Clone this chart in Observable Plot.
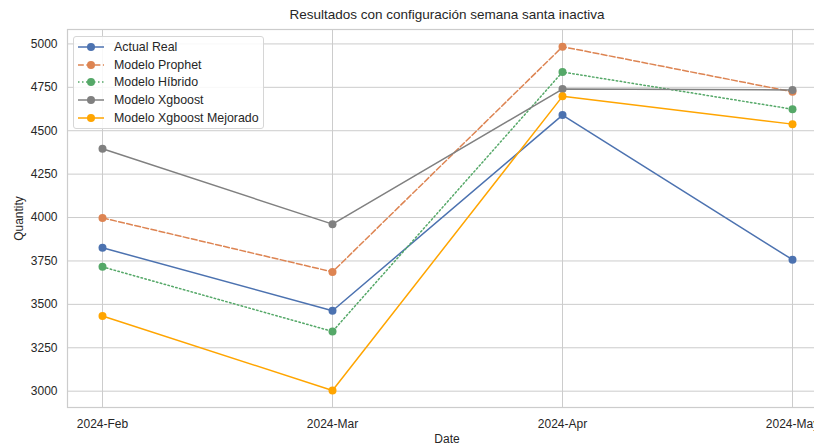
<!DOCTYPE html>
<html>
<head>
<meta charset="utf-8">
<script src="https://cdn.jsdelivr.net/npm/d3@7"></script>
<script src="https://cdn.jsdelivr.net/npm/@observablehq/plot@0.6"></script>
<style>
  html, body { margin: 0; padding: 0; background: #fff; overflow: hidden; }
  #wrap { position: relative; width: 814px; height: 445px; overflow: hidden; }
  #wrap > svg { max-width: none !important; width: 830px !important; height: 445px !important; }
  #legend {
    position: absolute; left: 73px; top: 36px; width: 191px; height: 93px;
    border: 1px solid #d6d6d6; border-radius: 3px; background: rgba(255,255,255,0.85);
    font-family: "Liberation Sans", Arial, sans-serif; font-size: 12.4px; color: #262626;
    box-sizing: border-box; padding-top: 1px;
  }
  #legend .row { display: flex; align-items: center; height: 17.7px; }
  #legend svg { margin-left: 4px; margin-right: 10px; }
</style>
</head>
<body>
<div id="wrap"></div>
<script>
const dates = ["2024-Feb", "2024-Mar", "2024-Apr", "2024-May"];
const actualReal = [3826, 3463, 4590, 3757];
const prophet = [3998, 3687, 4984, 4724];
const hibrido = [3716, 3344, 4838, 4624];
const xgboost = [4396, 3962, 4740, 4735];
const mejorado = [3433, 3004, 4698, 4538];
const yTicks = [3000, 3250, 3500, 3750, 4000, 4250, 4500, 4750, 5000];
const title = "Resultados con configuración semana santa inactiva";

const seriesNames = ["Actual Real", "Modelo Prophet", "Modelo Híbrido", "Modelo Xgboost", "Modelo Xgboost Mejorado"];
const seriesValues = [actualReal, prophet, hibrido, xgboost, mejorado];
const seriesColors = ["#4c72b0", "#dd8452", "#55a868", "#808080", "#ffa500"];
const seriesDash = [null, "5.8,2.5", "1.5,2.5", null, null];

const font = "'Liberation Sans', Arial, sans-serif";

const marks = [
  Plot.gridY(yTicks, {stroke: "#cccccc", strokeOpacity: 1, strokeWidth: 1}),
  Plot.gridX(dates, {stroke: "#cccccc", strokeOpacity: 1, strokeWidth: 1}),
  Plot.frame({stroke: "#cccccc", strokeWidth: 1.2}),
  Plot.axisY(yTicks, {tickSize: 0, tickPadding: 10, tickFormat: d => String(d), fontSize: 12,
    label: "Quantity", labelAnchor: "center", labelArrow: false, labelOffset: 53, fill: "#262626"}),
  Plot.axisX(dates, {tickSize: 0, tickPadding: 12, fontSize: 12,
    label: "Date", labelAnchor: "center", labelArrow: false, labelOffset: 35, fill: "#262626"}),
  Plot.text([title], {frameAnchor: "top", dy: -20, fontSize: 13.5, fill: "#262626"})
];

seriesNames.forEach((name, i) => {
  const data = dates.map((d, j) => ({date: d, value: seriesValues[i][j]}));
  marks.push(Plot.line(data, {x: "date", y: "value", stroke: seriesColors[i], strokeWidth: 1.5,
    strokeDasharray: seriesDash[i] || undefined}));
  marks.push(Plot.dot(data, {x: "date", y: "value", fill: seriesColors[i], r: 4}));
});

const chart = Plot.plot({
  width: 830,
  height: 445,
  marginLeft: 67,
  marginRight: 4,
  marginTop: 29,
  marginBottom: 38,
  style: {fontFamily: font, fontSize: "13px", color: "#262626", background: "#fff", maxWidth: "none"},
  x: {type: "point", domain: dates, padding: 0.15},
  y: {domain: [2906, 5083]},
  marks
});

const wrap = document.getElementById("wrap");
wrap.appendChild(chart);

const legend = document.createElement("div");
legend.id = "legend";
seriesNames.forEach((name, i) => {
  const row = document.createElement("div");
  row.className = "row";
  const dash = seriesDash[i] ? `stroke-dasharray="${seriesDash[i]}"` : "";
  row.innerHTML = `<svg width="26" height="10"><line x1="0" y1="5" x2="26" y2="5" stroke="${seriesColors[i]}" stroke-width="1.5" ${dash}/><circle cx="13" cy="5" r="4" fill="${seriesColors[i]}"/></svg><span>${name}</span>`;
  legend.appendChild(row);
});
wrap.appendChild(legend);
</script>
</body>
</html>
